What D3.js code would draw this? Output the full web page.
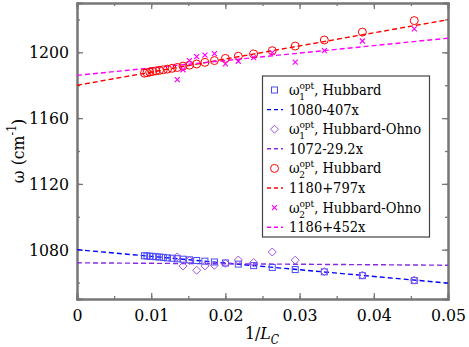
<!DOCTYPE html>
<html>
<head>
<meta charset="utf-8">
<script src="https://cdn.jsdelivr.net/npm/d3@7"></script>
<style>
  body { margin: 0; background: #fff; }
</style>
</head>
<body>
<svg id="chart" width="469" height="347"></svg>
<script>
// chain lengths L_C for the two sets of runs
const lHubbard = [110, 106, 102, 98, 94, 90, 86, 82, 78, 74, 70, 66, 62, 58, 54, 50, 46, 42, 38, 34, 30, 26, 22];
const lOhno = [74, 70, 66, 62, 58, 54, 50, 46, 42, 38, 34, 30, 26, 22];

// omega_1 opt, Hubbard (blue squares)
const w1Hubbard = [1076.3, 1076.2, 1076.0, 1075.9, 1075.7, 1075.5, 1075.3, 1075.0, 1074.8, 1074.5, 1074.2, 1073.8, 1073.4, 1073.0, 1072.5, 1071.9, 1071.2, 1070.3, 1069.2, 1067.9, 1066.5, 1064.2, 1061.2];
// omega_1 opt, Hubbard-Ohno (violet diamonds)
const w1Ohno = [1075.6, 1070.1, 1073.5, 1067.5, 1070.1, 1070.5, 1071.7, 1073.7, 1072.2, 1078.6, 1073.6, 1066.7, 1064.5, 1061.5];
// omega_2 opt, Hubbard (red circles)
const w2Hubbard = [1187.3, 1187.6, 1188.0, 1188.4, 1188.7, 1189.0, 1189.4, 1189.8, 1190.3, 1190.8, 1191.6, 1192.2, 1192.9, 1193.9, 1195.0, 1196.3, 1197.6, 1199.0, 1201.0, 1203.8, 1207.5, 1212.3, 1219.3];
// omega_2 opt, Hubbard-Ohno (magenta crosses)
const w2Ohno = [1183.4, 1189.4, 1195.0, 1197.4, 1198.3, 1199.2, 1193.0, 1194.6, 1196.8, 1199.8, 1194.0, 1201.0, 1206.9, 1214.3];

// linear fits a + b*x
const fitNames = ['1080-407x', '1072-29.2x', '1180+797x', '1186+452x'];
const fitA = [1080, 1072, 1180, 1186];
const fitB = [-407, -29.2, 797, 452];

const xTicks = [0, 0.01, 0.02, 0.03, 0.04, 0.05];
const yTicks = [1080, 1120, 1160, 1200];

const W = 469, H = 347;
const margin = { top: 3, right: 21, bottom: 48, left: 77 };
const FONT = '"DejaVu Serif Condensed", "DejaVu Serif", serif';
const svg = d3.select('#chart');

const x = d3.scaleLinear().domain([0, 0.05]).range([margin.left, W - margin.right]);
const y = d3.scaleLinear().domain([1050, 1230]).range([H - margin.bottom, margin.top]);

const blue = '#0000ff', violet = '#8a2be2', red = '#ff0000', magenta = '#ff00ff';
const frame = '#777';

// axes, ticks inside on all four sides
const minorX = d3.range(0, 0.0501, 0.005);
const minorY = d3.range(1060, 1230, 20);

svg.append('g')
    .attr('transform', `translate(0,${y(1050)})`)
    .call(d3.axisBottom(x).tickValues(minorX).tickSize(-3).tickFormat(''));
svg.append('g')
    .attr('transform', `translate(0,${y(1050)})`)
    .call(d3.axisBottom(x).tickValues(xTicks).tickSize(-6).tickPadding(10).tickFormat(d => d === 0 ? '0' : d3.format('.2f')(d)));
svg.append('g')
    .attr('transform', `translate(0,${y(1230)})`)
    .call(d3.axisTop(x).tickValues(minorX).tickSize(-3).tickFormat(''));
svg.append('g')
    .attr('transform', `translate(0,${y(1230)})`)
    .call(d3.axisTop(x).tickValues(xTicks).tickSize(-6).tickFormat(''));
svg.append('g')
    .attr('transform', `translate(${x(0)},0)`)
    .call(d3.axisLeft(y).tickValues(minorY).tickSize(-3).tickFormat(''));
svg.append('g')
    .attr('transform', `translate(${x(0)},0)`)
    .call(d3.axisLeft(y).tickValues(yTicks).tickSize(-6).tickPadding(8).tickFormat(d3.format('d')));
svg.append('g')
    .attr('transform', `translate(${x(0.05)},0)`)
    .call(d3.axisRight(y).tickValues(minorY).tickSize(-3).tickFormat(''));
svg.append('g')
    .attr('transform', `translate(${x(0.05)},0)`)
    .call(d3.axisRight(y).tickValues(yTicks).tickSize(-6).tickFormat(''));

svg.selectAll('.domain').attr('stroke', frame).attr('stroke-width', 2);
svg.selectAll('.tick line').attr('stroke', frame).attr('stroke-width', 1.3);
svg.selectAll('.tick text')
    .attr('font-size', 17.5)
    .attr('fill', '#000');

// fit lines
const fitColors = [blue, violet, red, magenta];
const plot = svg.append('g');
fitA.forEach((a, i) => {
    plot.append('line')
        .attr('x1', x(0)).attr('y1', y(a))
        .attr('x2', x(0.05)).attr('y2', y(a + fitB[i] * 0.05))
        .attr('stroke', fitColors[i])
        .attr('stroke-width', 1.4)
        .attr('stroke-dasharray', '5,3');
});

// markers
function drawMarker(g, kind, color, cx, cy) {
    if (kind === 'square') {
        g.append('rect').attr('x', cx - 3).attr('y', cy - 3).attr('width', 6).attr('height', 6)
            .attr('fill', 'none').attr('stroke', color).attr('stroke-width', 1);
    } else if (kind === 'diamond') {
        g.append('path').attr('d', `M${cx},${cy - 4}L${cx + 4},${cy}L${cx},${cy + 4}L${cx - 4},${cy}Z`)
            .attr('fill', 'none').attr('stroke', color).attr('stroke-width', 1);
    } else if (kind === 'circle') {
        g.append('circle').attr('cx', cx).attr('cy', cy).attr('r', 4)
            .attr('fill', 'none').attr('stroke', color).attr('stroke-width', 1);
    } else {
        g.append('path').attr('d', `M${cx - 2.5},${cy - 2.5}L${cx + 2.5},${cy + 2.5}M${cx - 2.5},${cy + 2.5}L${cx + 2.5},${cy - 2.5}`)
            .attr('fill', 'none').attr('stroke', color).attr('stroke-width', 1.2);
    }
}

const series = [
    { L: lHubbard, w: w1Hubbard, kind: 'square', color: '#4a4aff' },
    { L: lOhno, w: w1Ohno, kind: 'diamond', color: '#9a55e0' },
    { L: lHubbard, w: w2Hubbard, kind: 'circle', color: red },
    { L: lOhno, w: w2Ohno, kind: 'cross', color: magenta }
];
series.forEach(s => {
    const g = plot.append('g');
    s.L.forEach((L, i) => drawMarker(g, s.kind, s.color, x(1 / L), y(s.w[i])));
});

// legend
const leg = svg.append('g');
leg.append('rect').attr('x', 262.5).attr('y', 76).attr('width', 167).attr('height', 161)
    .attr('fill', '#fff').attr('stroke', '#444').attr('stroke-width', 1.2);
const rowY = d3.range(8).map(i => 90 + i * 19.6);
const labelNames = [['1', 'Hubbard'], ['1', 'Hubbard-Ohno'], ['2', 'Hubbard'], ['2', 'Hubbard-Ohno']];
series.forEach((s, i) => {
    const ym = rowY[2 * i], yl = rowY[2 * i + 1];
    drawMarker(leg, s.kind, s.color, 274.5, ym);
    const t = leg.append('text').attr('x', 289).attr('y', ym + 5).attr('font-size', 14.5);
    t.append('tspan').text('ω');
    t.append('tspan').attr('font-size', 10).attr('dy', 5).attr('dx', -0.5).text(labelNames[i][0]);
    t.append('tspan').attr('font-size', 10).attr('dx', -5.5).attr('dy', -11).text('opt');
    t.append('tspan').attr('dy', 6).text(', ' + labelNames[i][1]);
    leg.append('line').attr('x1', 267).attr('x2', 283).attr('y1', yl).attr('y2', yl)
        .attr('stroke', fitColors[i]).attr('stroke-width', 1.4).attr('stroke-dasharray', '4,3');
    leg.append('text').attr('x', 289).attr('y', yl + 5).attr('font-size', 14.5).text(fitNames[i]);
});

// axis titles
const xt = svg.append('text').attr('x', 262).attr('y', 339).attr('text-anchor', 'middle').attr('font-size', 17.5);
xt.append('tspan').text('1/');
xt.append('tspan').attr('font-style', 'italic').text('L');
xt.append('tspan').attr('font-style', 'italic').attr('font-size', 12).attr('dy', 5).text('C');

const yt = svg.append('text').attr('transform', `translate(24,${y(1140)}) rotate(-90)`)
    .attr('text-anchor', 'middle').attr('font-size', 17.5);
yt.append('tspan').text('ω (cm');
yt.append('tspan').attr('font-size', 12).attr('dy', -8).text('-1');
yt.append('tspan').attr('dy', 8).text(')');

// same serif face on every text and tspan
svg.selectAll('text, tspan').attr('font-family', FONT).attr('font-stretch', 'condensed');
</script>
</body>
</html>
